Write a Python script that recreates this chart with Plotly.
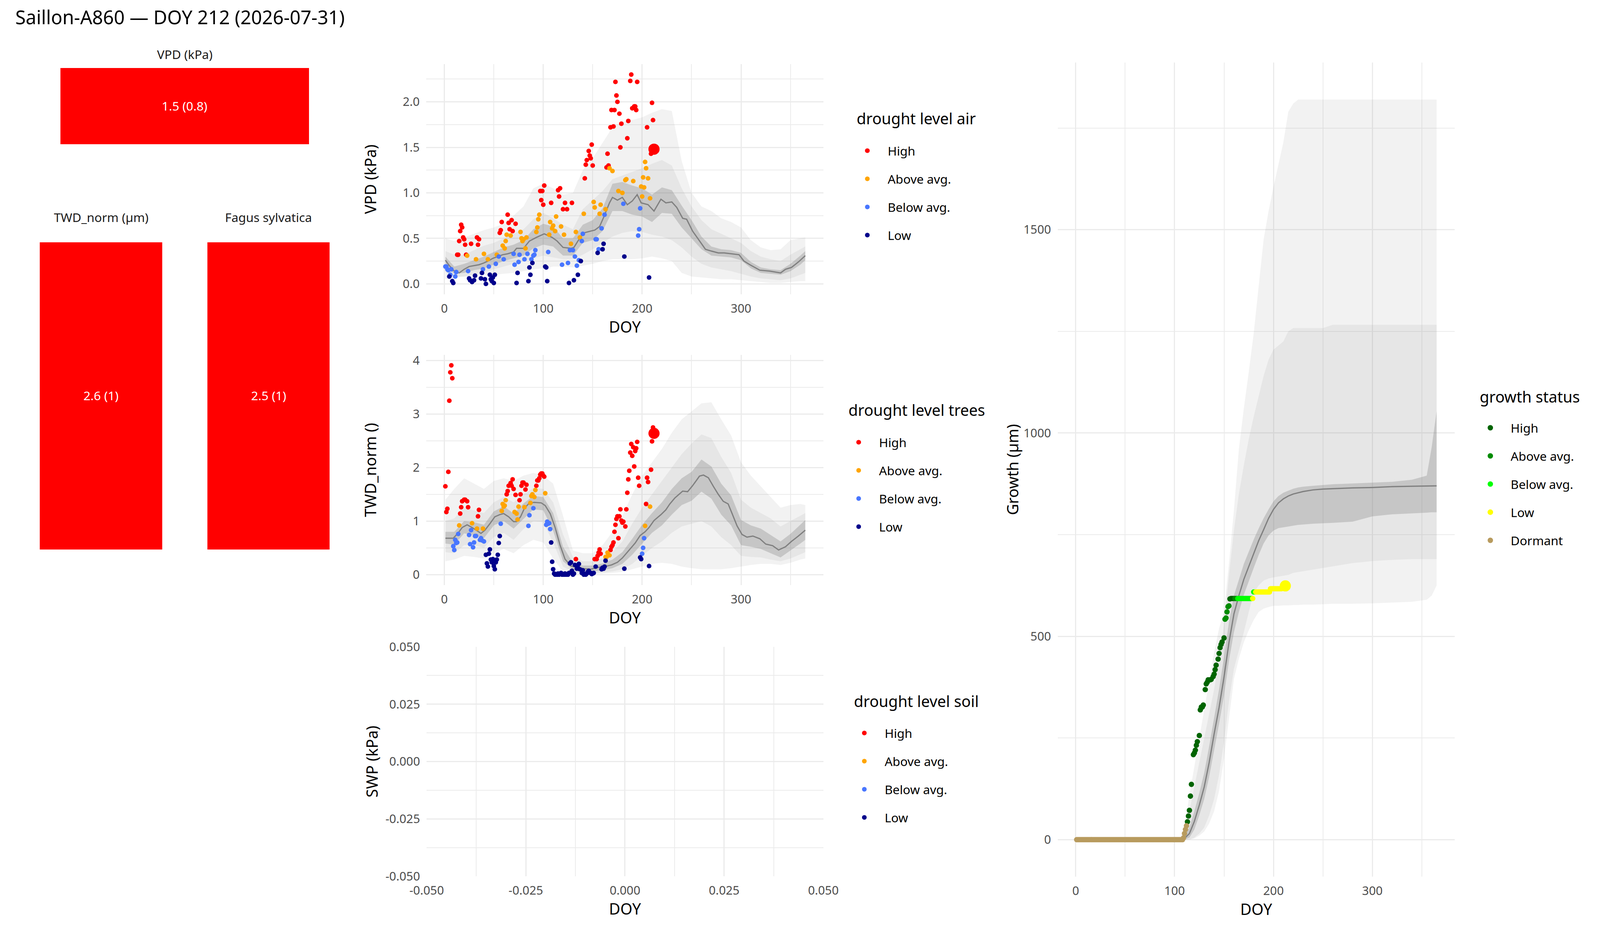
import plotly.graph_objects as go

FONT = "Noto Sans"
# Geometry is measured in the 4800 x 2400 reference frame and placed as
# fractions of the page; the page viewport is about 4096 x 2400 CSS px, so
# horizontal pixel offsets are scaled by SX, vertical ones kept (SY = 1).
REF_W, REF_H = 4800, 2400
W, H = 4096, 2400
SX = W / REF_W
SY = H / REF_H
F = 0.88      # font scale
M = 0.92      # marker scale


def sx(v):
    return v * SX


def sy(v):
    return v * SY


title_text = "Saillon-A860 — DOY 212 (2026-07-31)"
today_doy = 212

# ---------------- tiles ----------------
tile_labels = ["VPD (kPa)", "TWD_norm (µm)", "Fagus sylvatica"]
tile_values = [1.5, 2.6, 2.5]
tile_sd = [0.8, 1, 1]
tile_colors = ["#FF0000", "#FF0000", "#FF0000"]

# ---------------- categories ----------------
levels = ["High", "Above avg.", "Below avg.", "Low"]
level_colors = ["#FF0000", "#FFA500", "#4876FF", "#00008B"]
growth_levels = ["High", "Above avg.", "Below avg.", "Low", "Dormant"]
growth_colors = ["#006400", "#008B00", "#00FF00", "#FFFF00", "#B89B5E"]
legend_titles = ["drought level air", "drought level trees", "drought level soil", "growth status"]

# ---------------- VPD observations ----------------
vpd_high_doy = [13,14,15,16,17,18,19,20,21,22,27,33,34,35,56,57,58,64,65,66,68,69,72,97,98,99,100,101,108,115,116,117,120,122,124,129,142,143,144,146,147,148,149,150,164,165,166,168,169,171,172,173,174,175,177,178,179,185,186,188,189,190,192,193,194,195,205,209,210,211,212]
vpd_high_val = [0.32,0.32,0.47,0.58,0.65,0.62,0.51,0.49,0.43,0.32,0.44,0.51,0.43,0.49,0.56,0.59,0.68,0.76,0.67,0.60,0.70,0.58,0.66,1.02,0.92,1.02,0.87,1.08,0.89,1.03,0.96,1.05,0.82,0.89,0.82,0.89,1.16,1.31,1.36,1.46,1.41,1.38,1.53,1.30,1.28,1.43,1.30,1.72,1.91,1.73,1.91,2.22,2.07,2.00,1.87,1.50,1.76,1.60,1.79,2.23,2.30,1.93,1.95,1.95,1.91,2.22,1.72,1.43,1.99,1.80,1.48]
vpd_above_doy = [23,32,40,44,53,59,61,62,63,67,77,78,79,80,82,83,93,94,95,96,106,107,109,110,112,113,118,121,128,133,137,141,151,152,157,158,163,167,170,176,180,183,184,191,199,200,201,202,203,204,206,208]
vpd_above_val = [0.31,0.27,0.33,0.27,0.32,0.42,0.39,0.47,0.54,0.53,0.57,0.50,0.47,0.49,0.39,0.51,0.57,0.62,0.71,0.76,0.54,0.68,0.61,0.64,0.58,0.74,0.63,0.54,0.44,0.57,0.51,0.77,0.90,0.84,0.77,0.87,0.82,1.27,1.24,1.02,1.00,1.14,1.15,1.13,1.07,0.96,1.17,1.06,1.34,1.27,1.16,0.94]
vpd_below_doy = [1,2,3,4,6,7,11,12,24,39,45,52,55,60,70,71,75,76,81,84,88,90,91,92,105,119,125,127,130,132,134,136,139,140,153,154,156,159,162,181,196,197,198]
vpd_below_val = [0.19,0.19,0.16,0.15,0.10,0.16,0.08,0.13,0.14,0.16,0.19,0.22,0.30,0.27,0.33,0.21,0.24,0.32,0.27,0.33,0.27,0.31,0.32,0.37,0.35,0.21,0.23,0.37,0.37,0.30,0.20,0.26,0.47,0.55,0.49,0.49,0.38,0.61,0.76,0.88,0.53,0.60,0.83]
vpd_low_doy = [5,8,9,25,26,28,30,31,37,38,41,42,46,47,48,49,50,51,73,74,85,86,87,89,102,103,104,126,131,135,138,155,160,161,182,207]
vpd_low_val = [0.08,0.03,0.01,0.06,0.04,0.02,0.04,0.09,0.06,0.12,0.05,0.00,0.10,0.05,0.03,0.07,0.01,0.10,0.01,0.12,0.03,0.18,0.10,0.23,0.19,0.18,0.03,0.01,0.04,0.10,0.25,0.34,0.38,0.44,0.30,0.07]

# ---------------- TWD observations ----------------
twd_high_doy = [1,2,3,4,5,6,7,8,16,17,18,20,21,23,24,34,35,63,64,65,67,68,69,70,72,76,77,78,79,80,82,83,93,94,95,96,97,98,99,100,101,133,152,154,155,156,157,158,168,169,170,171,172,173,174,175,176,177,178,179,180,181,183,184,185,186,187,188,189,190,191,192,193,194,195,196,197,204,205,206,209,210,211,212]
twd_high_val = [1.65,1.17,1.23,1.92,3.25,3.78,3.91,3.67,1.14,1.26,1.37,1.40,1.40,1.37,1.26,1.09,1.21,1.50,1.56,1.66,1.71,1.66,1.78,1.60,1.49,1.39,1.50,1.66,1.72,1.72,1.59,1.68,1.66,1.76,1.76,1.80,1.87,1.89,1.89,1.85,1.83,0.29,0.29,0.29,0.35,0.41,0.47,0.39,0.46,0.52,0.55,0.60,0.80,0.93,1.04,1.09,0.68,1.09,1.22,1.01,0.97,0.99,0.90,1.22,1.53,1.78,1.94,2.28,2.44,2.22,2.38,2.02,2.31,2.36,2.48,1.81,1.66,1.32,1.81,1.73,1.96,2.49,2.75,2.64]
twd_above_doy = [15,28,33,39,58,59,60,61,62,71,73,74,75,81,87,88,89,91,92,102,163,164,165,166,167,203,208]
twd_above_val = [0.92,0.96,0.86,0.86,1.19,1.32,1.27,1.29,1.39,1.17,1.14,1.03,1.27,1.26,1.34,1.47,1.50,1.45,1.58,1.52,0.33,0.33,0.41,0.37,0.36,0.91,1.27]
twd_below_doy = [9,10,11,12,13,14,25,26,27,29,30,31,32,36,37,38,40,57,85,86,90,103,104,105,106,107,200,201,202]
twd_below_val = [0.53,0.46,0.65,0.59,0.60,0.76,0.74,0.57,0.83,0.51,0.60,0.72,0.72,0.65,0.68,0.64,0.62,0.95,0.91,1.11,1.24,0.93,0.99,0.95,0.96,0.85,0.39,0.50,0.68]
twd_low_doy = [42,43,44,45,46,47,48,49,50,51,52,53,54,55,56,108,109,110,111,112,113,114,115,116,117,118,119,120,121,122,123,124,125,126,127,128,129,130,131,132,134,135,136,137,139,140,141,142,143,144,145,146,147,148,149,150,151,153,159,160,161,162,163,182,198,199,207]
twd_low_val = [0.37,0.21,0.15,0.39,0.47,0.28,0.23,0.29,0.16,0.10,0.23,0.28,0.37,0.59,0.72,0.60,0.24,0.10,0.02,0.00,0.01,0.00,0.02,0.00,0.01,0.03,0.00,0.01,0.00,0.02,0.00,0.01,0.00,0.03,0.21,0.23,0.07,0.00,0.02,0.18,0.11,0.13,0.20,0.10,0.03,0.08,0.00,0.01,0.00,0.02,0.05,0.07,0.04,0.03,0.01,0.02,0.03,0.15,0.10,0.13,0.11,0.15,0.26,0.11,0.32,0.29,0.16]

# ---------------- SWP observations (none available) ----------------
swp_high_doy, swp_high_val = [], []
swp_above_doy, swp_above_val = [], []
swp_below_doy, swp_below_val = [], []
swp_low_doy, swp_low_val = [], []
swp_ticks = [-0.05, -0.025, 0.0, 0.025, 0.05]
swp_tick_labels = ["-0.050", "-0.025", "0.000", "0.025", "0.050"]

# ---------------- growth observations ----------------
growth_dormant_doy = list(range(1, 113))
growth_dormant_val = [0] * 108 + [4, 15, 25, 34]
growth_high_doy = [113,114,115,116,117,119,120,121,122,123,125,126,127,128,129,131,132,133,134,136,137,139,140,141,142,144,145,146,147,148,150,156,157,158,159,160]
growth_high_val = [44,58,72,107,136,209,213,220,232,241,256,319,326,326,331,369,383,387,393,393,394,401,407,418,429,444,458,472,480,486,496,592,593,593,593,593]
growth_above_doy = [151,152,153,154,155,161,162,163]
growth_above_val = [542,545,560,573,575,593,593,593]
growth_below_doy = [164,165,166,167,168,169,170,171,172,173,174,175,176,177,178,180,181]
growth_below_val = [593,593,593,593,593,593,593,593,593,593,593,593,593,593,593,609,609]
growth_low_doy = [179,182,183,184,185,186,187,188,189,190,191,192,193,194,195,196,197,198,199,200,201,202,203,204,205,206,207,208,209,210,211,212]
growth_low_val = [593,609,609,609,609,609,609,609,609,609,609,609,609,609,609,609,617,617,617,617,617,617,617,617,617,617,617,617,620,621,622,624]

# ---------------- climatology: VPD ----------------
vpd_med_doy = [1,5,10,15,20,25,30,35,40,44,49,54,59,64,70,73,80,86,93,101,105,109,114,120,128,131,135,141,148,152,157,161,167,170,175,180,185,190,195,199,206,212,219,224,230,235,241,245,251,258,264,270,277,283,290,298,303,309,319,329,340,345,351,358,365]
vpd_med_val = [0.26,0.20,0.14,0.12,0.16,0.19,0.20,0.21,0.23,0.25,0.28,0.30,0.32,0.33,0.35,0.39,0.39,0.47,0.51,0.55,0.53,0.51,0.47,0.40,0.39,0.40,0.47,0.56,0.58,0.59,0.63,0.73,0.89,0.95,0.92,0.95,0.87,0.91,0.98,0.89,0.87,0.80,0.93,0.89,0.90,0.84,0.72,0.71,0.58,0.47,0.38,0.36,0.34,0.34,0.33,0.32,0.25,0.21,0.15,0.14,0.12,0.16,0.18,0.24,0.31]
band_doy = [1,10,20,30,40,50,60,70,80,90,100,110,120,130,140,150,160,170,180,190,200,210,220,230,240,250,260,270,280,290,300,310,320,330,340,350,360,365]
vpd_in_hi = [0.30,0.19,0.22,0.26,0.30,0.35,0.40,0.43,0.48,0.60,0.66,0.63,0.50,0.50,0.65,0.70,0.83,1.10,1.12,1.08,1.05,0.98,1.06,1.03,0.86,0.70,0.52,0.41,0.38,0.37,0.34,0.24,0.18,0.16,0.15,0.22,0.31,0.36]
vpd_in_lo = [0.20,0.11,0.12,0.15,0.17,0.21,0.25,0.28,0.31,0.39,0.43,0.41,0.31,0.31,0.45,0.48,0.58,0.80,0.80,0.76,0.74,0.68,0.78,0.77,0.62,0.50,0.38,0.31,0.30,0.29,0.26,0.17,0.12,0.11,0.10,0.14,0.21,0.26]
vpd_mid_hi = [0.36,0.32,0.32,0.37,0.42,0.45,0.50,0.55,0.60,0.71,0.78,0.72,0.65,0.60,0.82,0.92,1.02,1.15,1.19,1.23,1.27,1.32,1.36,1.30,1.05,0.85,0.70,0.60,0.55,0.50,0.45,0.36,0.30,0.27,0.25,0.32,0.38,0.41]
vpd_mid_lo = [0.13,0.08,0.08,0.10,0.13,0.16,0.19,0.22,0.25,0.28,0.31,0.29,0.27,0.27,0.32,0.38,0.45,0.52,0.56,0.58,0.57,0.54,0.52,0.48,0.40,0.30,0.22,0.18,0.16,0.14,0.11,0.08,0.06,0.05,0.04,0.06,0.10,0.12]
vpd_out_hi = [0.50,0.47,0.51,0.55,0.59,0.62,0.66,0.75,0.85,1.05,1.10,1.05,0.98,1.00,1.25,1.38,1.55,1.72,1.78,1.80,1.83,1.88,1.92,1.90,1.35,1.00,0.85,0.80,0.72,0.68,0.62,0.48,0.40,0.37,0.38,0.48,0.50,0.51]
vpd_out_lo = [0.05,0.07,0.08,0.09,0.10,0.10,0.11,0.12,0.14,0.16,0.17,0.19,0.19,0.18,0.20,0.22,0.25,0.27,0.27,0.27,0.28,0.30,0.28,0.25,0.12,0.08,0.07,0.06,0.05,0.05,0.04,0.03,0.02,0.01,0.01,0.02,0.03,0.03]

# ---------------- climatology: TWD ----------------
twd_med_doy = [1,9,14,18,23,28,33,37,41,46,51,56,60,65,70,73,77,81,86,91,98,102,107,112,117,122,128,135,141,148,154,162,169,175,180,186,193,198,203,207,212,219,224,228,233,241,246,251,258,262,267,272,277,282,287,291,296,301,306,312,319,325,332,338,345,351,358,365]
twd_med_val = [0.68,0.68,0.78,0.88,0.93,0.88,0.82,0.77,0.83,0.95,1.08,1.12,1.14,1.08,0.99,0.99,1.08,1.24,1.34,1.35,1.34,1.29,1.14,0.88,0.55,0.29,0.16,0.13,0.11,0.10,0.13,0.15,0.18,0.23,0.31,0.44,0.59,0.73,0.80,0.88,1.01,1.12,1.21,1.32,1.43,1.56,1.55,1.66,1.84,1.86,1.81,1.65,1.50,1.37,1.32,1.14,0.91,0.75,0.70,0.72,0.67,0.57,0.54,0.46,0.52,0.62,0.72,0.83]
twd_in_hi = [0.80,0.80,1.00,0.98,0.93,1.18,1.28,1.14,1.33,1.47,1.45,1.15,0.52,0.22,0.17,0.17,0.21,0.28,0.42,0.67,0.93,1.15,1.35,1.60,1.80,1.92,2.15,2.02,1.70,1.48,1.02,0.92,0.86,0.74,0.62,0.76,0.93,1.02]
twd_in_lo = [0.58,0.56,0.77,0.74,0.68,0.92,1.00,0.86,1.04,1.22,1.20,0.82,0.25,0.09,0.06,0.06,0.08,0.12,0.20,0.37,0.58,0.78,0.92,1.12,1.30,1.38,1.55,1.42,1.12,0.92,0.55,0.52,0.48,0.40,0.32,0.45,0.58,0.65]
twd_mid_hi = [1.00,1.05,1.25,1.20,1.15,1.35,1.45,1.35,1.50,1.62,1.60,1.35,0.75,0.33,0.25,0.25,0.30,0.42,0.62,0.95,1.25,1.50,1.75,2.00,2.25,2.45,2.62,2.55,2.20,1.90,1.40,1.25,1.15,1.05,0.90,1.00,1.10,1.15]
twd_mid_lo = [0.42,0.40,0.55,0.55,0.50,0.70,0.78,0.65,0.85,1.00,0.98,0.60,0.15,0.05,0.03,0.03,0.04,0.06,0.10,0.20,0.35,0.50,0.62,0.78,0.90,0.95,1.00,0.90,0.70,0.55,0.35,0.33,0.32,0.28,0.25,0.30,0.38,0.42]
twd_out_hi = [1.40,1.60,1.80,1.70,1.60,1.75,1.80,1.75,1.85,1.90,1.85,1.70,1.10,0.45,0.40,0.40,0.55,0.80,1.10,1.50,1.85,2.10,2.35,2.65,2.90,3.05,3.20,3.22,2.90,2.60,2.10,1.85,1.65,1.45,1.25,1.30,1.32,1.30]
twd_out_lo = [0.25,0.28,0.35,0.33,0.30,0.40,0.48,0.40,0.55,0.65,0.60,0.30,0.05,0.02,0.01,0.01,0.02,0.03,0.05,0.10,0.15,0.20,0.22,0.20,0.15,0.12,0.10,0.10,0.10,0.12,0.15,0.18,0.20,0.20,0.18,0.22,0.28,0.30]

# ---------------- climatology: growth ----------------
growth_clim_doy = [1,105,110,115,120,125,130,135,140,145,150,155,160,165,170,175,180,185,190,195,200,205,210,215,220,225,230,240,250,260,280,300,320,340,355,360,365]
growth_med = [0,0,3,15,45,85,130,190,260,325,400,485,555,600,640,672,705,735,762,790,812,828,838,845,850,853,856,860,862,863,865,866,868,869,870,870,870]
growth_in_hi = [0,0,8,30,70,115,165,230,300,370,450,535,600,640,678,708,738,765,790,812,832,845,853,858,863,866,868,870,872,874,876,878,880,885,895,965,1054]
growth_in_lo = [0,0,0,5,25,60,100,155,220,285,355,440,510,560,602,636,668,700,728,748,760,766,768,770,772,774,775,777,778,779,782,795,800,802,804,805,805]
growth_mid_hi = [0,0,20,70,130,190,250,310,370,440,530,650,760,850,920,985,1040,1090,1140,1180,1205,1215,1225,1250,1258,1258,1258,1258,1258,1266,1266,1266,1266,1266,1266,1266,1266]
growth_mid_lo = [0,0,0,0,5,15,30,60,100,160,240,340,420,465,510,560,607,625,637,642,645,647,649,651,656,658,660,664,668,672,680,685,688,690,690,690,690]
growth_out_hi = [0,0,30,110,180,250,320,390,460,520,560,680,810,960,1060,1150,1245,1360,1475,1545,1605,1660,1715,1790,1810,1820,1820,1820,1820,1820,1820,1820,1820,1820,1820,1820,1820]
growth_out_lo = [0,0,0,0,3,10,20,40,70,120,200,300,395,445,485,515,540,560,568,572,575,575,576,576,577,577,578,578,579,580,580,581,583,585,590,600,625]

# =====================================================================
fig = go.Figure()

GRID = "#EBEBEB"
TICK_COL = "#4D4D4D"
BAND_ALPHAS = [0.10, 0.10, 0.30]
PT = 13 * M
PT_G = 15 * M
PT_BIG = 31 * M
FS_TICK = 35 * F
FS_AXT = 45 * F
FS_LEGT = 45 * F
FS_LEG = 36 * F
FS_STRIP = 36 * F
FS_TITLE = 55 * F


def add_bands(xa, ya, doy, bands, med_doy, med_val):
    for (lo, hi), a in zip(bands, BAND_ALPHAS):
        fig.add_trace(go.Scatter(
            x=list(doy) + list(doy)[::-1], y=list(hi) + list(lo)[::-1],
            fill="toself", fillcolor=f"rgba(127,127,127,{a})",
            line=dict(width=0), mode="lines", hoverinfo="skip",
            showlegend=False, xaxis=xa, yaxis=ya))
    fig.add_trace(go.Scatter(x=med_doy, y=med_val, mode="lines",
                             line=dict(color="#808080", width=3.2),
                             hoverinfo="skip", showlegend=False,
                             xaxis=xa, yaxis=ya))


def add_points(xa, ya, series, names, colors, legend, key, size):
    for (d, v), name, col in zip(series, names, colors):
        sizes = [PT_BIG if dd == today_doy else size for dd in d]
        fig.add_trace(go.Scatter(
            x=d if d else [None], y=v if v else [None], mode="markers",
            marker=dict(color=col, size=sizes if d else size, opacity=1,
                        line=dict(width=0)),
            name=name, legend=legend, legendgroup=f"{key}_{name}",
            xaxis=xa, yaxis=ya))


# tiles
tile_axes = [("x", "y"), ("x2", "y2"), ("x3", "y3")]
for (xa, ya), lab, val, sd, col in zip(tile_axes, tile_labels, tile_values, tile_sd, tile_colors):
    fig.add_trace(go.Heatmap(
        z=[[val]], text=[[f"{val:g} ({sd:g})"]], texttemplate="%{text}",
        textfont=dict(color="white", size=FS_STRIP, family=FONT),
        colorscale=[[0, col], [1, col]], showscale=False, hoverinfo="skip",
        xgap=0, ygap=0, xaxis=xa, yaxis=ya))

# VPD panel
add_bands("x4", "y4", band_doy,
          [(vpd_out_lo, vpd_out_hi), (vpd_mid_lo, vpd_mid_hi), (vpd_in_lo, vpd_in_hi)],
          vpd_med_doy, vpd_med_val)
add_points("x4", "y4",
           [(vpd_high_doy, vpd_high_val), (vpd_above_doy, vpd_above_val),
            (vpd_below_doy, vpd_below_val), (vpd_low_doy, vpd_low_val)],
           levels, level_colors, "legend", "air", PT)

# TWD panel
add_bands("x5", "y5", band_doy,
          [(twd_out_lo, twd_out_hi), (twd_mid_lo, twd_mid_hi), (twd_in_lo, twd_in_hi)],
          twd_med_doy, twd_med_val)
add_points("x5", "y5",
           [(twd_high_doy, twd_high_val), (twd_above_doy, twd_above_val),
            (twd_below_doy, twd_below_val), (twd_low_doy, twd_low_val)],
           levels, level_colors, "legend2", "trees", PT)

# SWP panel (no data)
add_points("x6", "y6",
           [(swp_high_doy, swp_high_val), (swp_above_doy, swp_above_val),
            (swp_below_doy, swp_below_val), (swp_low_doy, swp_low_val)],
           levels, level_colors, "legend3", "soil", PT)

# Growth panel
add_bands("x7", "y7", growth_clim_doy,
          [(growth_out_lo, growth_out_hi), (growth_mid_lo, growth_mid_hi),
           (growth_in_lo, growth_in_hi)],
          growth_clim_doy, growth_med)
add_points("x7", "y7",
           [(growth_high_doy, growth_high_val), (growth_above_doy, growth_above_val),
            (growth_below_doy, growth_below_val), (growth_low_doy, growth_low_val),
            (growth_dormant_doy, growth_dormant_val)],
           growth_levels, growth_colors, "legend4", "growth", PT_G)


def px_x(a, b):
    return [a / REF_W, b / REF_W]


def px_y(top, bottom):
    return [1 - bottom / REF_H, 1 - top / REF_H]


def hidden_axes(n, xdom, ydom):
    return {
        f"xaxis{n}": dict(domain=xdom, range=[-0.5, 0.5], visible=False, fixedrange=True),
        f"yaxis{n}": dict(domain=ydom, range=[-0.5, 0.5], visible=False, fixedrange=True),
    }


def data_axis(domain, rng, anchor, title, standoff, label_gap, grid_w, minor_w,
              dtick=None, minor=None, tickformat=None, tickvals=None, ticktext=None):
    ax = dict(domain=domain, range=rng, anchor=anchor, showgrid=True,
              gridcolor=GRID, gridwidth=grid_w, zeroline=False, showline=False,
              ticks="", ticklabelstandoff=int(round(label_gap)),
              tickfont=dict(size=FS_TICK, color=TICK_COL, family=FONT),
              title=dict(text=title, font=dict(size=FS_AXT, color="black", family=FONT),
                         standoff=standoff),
              automargin=False, fixedrange=True)
    if tickvals is not None:
        ax.update(tickmode="array", tickvals=tickvals, ticktext=ticktext)
    else:
        ax.update(tick0=0, dtick=dtick)
    if tickformat:
        ax["tickformat"] = tickformat
    if minor is not None:
        ax["minor"] = dict(tick0=0, dtick=minor, showgrid=True,
                           gridcolor=GRID, gridwidth=minor_w)
    return ax


def x_axis(domain, rng, anchor, **kw):
    # vertical grid lines, title/labels below the panel (vertical offsets)
    return data_axis(domain, rng, anchor, "DOY", sy(6), sy(15), sx(3.2), sx(1.9), **kw)


def y_axis(domain, rng, anchor, title, standoff_ref, **kw):
    # horizontal grid lines, title/labels left of the panel (horizontal offsets)
    return data_axis(domain, rng, anchor, title, sx(standoff_ref), sx(19),
                     sy(3.2), sy(1.9), **kw)


layout = dict(
    autosize=True, margin=dict(l=0, r=0, t=0, b=0),
    paper_bgcolor="white", plot_bgcolor="white",
    font=dict(family=FONT, color="black"),
    showlegend=True,
    title=dict(text=title_text, x=46 / REF_W, xanchor="left", y=1 - 45 / REF_H,
               yanchor="middle", xref="paper", yref="paper",
               font=dict(size=FS_TITLE, color="black", family=FONT)),
)

layout.update(hidden_axes("", px_x(181, 927), px_y(174, 369)))
layout.update(hidden_axes(2, px_x(119, 487), px_y(620, 1406)))
layout.update(hidden_axes(3, px_x(622, 989), px_y(620, 1406)))

doy_range = [-18.25, 383.25]
layout["xaxis4"] = x_axis(px_x(1279, 2470), doy_range, "y4", dtick=100, minor=50)
layout["yaxis4"] = y_axis(px_y(164, 753), [-0.115, 2.415], "x4", "VPD (kPa)", 64,
                          dtick=0.5, minor=0.25, tickformat=".1f")
layout["xaxis5"] = x_axis(px_x(1279, 2470), doy_range, "y5", dtick=100, minor=50)
layout["yaxis5"] = y_axis(px_y(908, 1497), [-0.196, 4.106], "x5", "TWD_norm ()", 94,
                          dtick=1, minor=0.5)
layout["xaxis6"] = x_axis(px_x(1280, 2470), [-0.05, 0.05], "y6",
                          tickvals=swp_ticks, ticktext=swp_tick_labels, minor=0.0125)
layout["yaxis6"] = y_axis(px_y(1655, 2242), [-0.05, 0.05], "x6", "SWP (kPa)", 7,
                          tickvals=swp_ticks, ticktext=swp_tick_labels, minor=0.0125)
layout["xaxis7"] = x_axis(px_x(3173, 4364), doy_range, "y7", dtick=100, minor=50)
layout["yaxis7"] = y_axis(px_y(160, 2243), [-91, 1911], "x7", "Growth (µm)", 0,
                          dtick=500, minor=250)

# legends: (title left, title centre y, marker centre x, first item centre y) in reference px
legend_geom = [(2568, 303, 2602, 384), (2543, 1049, 2576, 1130),
               (2559, 1794, 2593, 1874), (4437, 1015, 4471, 1093)]
item_text_gap = sx(61)                 # marker centre -> text start
ITEM_W = 2 * (item_text_gap - 5)
item_h = FS_LEG * 1.3
for key, (tl, ty, mx, fy) in zip(["legend", "legend2", "legend3", "legend4"], legend_geom):
    layout[key] = dict(
        font=dict(size=FS_LEG, color="black", family=FONT),
        x=(mx / REF_W * W - 5 - ITEM_W / 2) / W,
        y=1 - (fy / REF_H * H - 5 - item_h / 2) / H,
        xanchor="left", yanchor="top", bgcolor="rgba(0,0,0,0)", borderwidth=0,
        tracegroupgap=sy(72) - item_h - 3, itemwidth=ITEM_W, traceorder="grouped",
        itemclick=False, itemdoubleclick=False)

annotations = []
tile_label_offsets = [36, 64, 64]
for (xa, ya), lab, off in zip(tile_axes, tile_labels, tile_label_offsets):
    annotations.append(dict(text=lab, xref=f"{xa} domain", yref=f"{ya} domain",
                            x=0.5, y=1, xanchor="center", yanchor="middle",
                            yshift=sy(off), showarrow=False,
                            font=dict(size=FS_STRIP, color="#1A1A1A", family=FONT)))
for lt, (tl, ty, mx, fy) in zip(legend_titles, legend_geom):
    annotations.append(dict(text=lt, xref="paper", yref="paper",
                            x=tl / REF_W, y=1 - ty / REF_H, xanchor="left", yanchor="middle",
                            showarrow=False,
                            font=dict(size=FS_LEGT, color="black", family=FONT)))
layout["annotations"] = annotations

fig.update_layout(**layout)

fig.write_html("out.html", default_width="100vw", default_height="100vh",
               config={"displayModeBar": False, "responsive": True},
               post_script="document.body.style.margin='0';document.body.style.overflow='hidden';")
